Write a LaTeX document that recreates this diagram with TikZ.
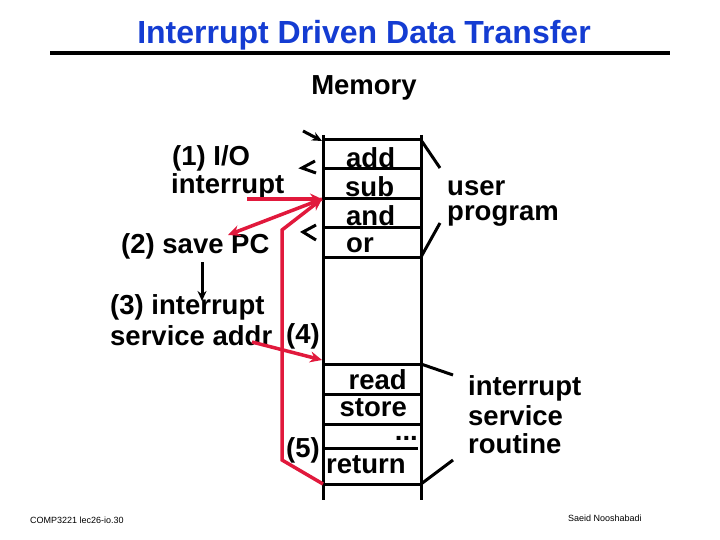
\documentclass[tikz,border=0pt]{standalone}
\usepackage{fontspec}
\setmainfont{Liberation Sans}
\usetikzlibrary{arrows.meta}
\definecolor{tblue}{RGB}{20,60,210}
\definecolor{ired}{RGB}{225,25,60}
\begin{document}
\begin{tikzpicture}[x=1pt,y=-1pt,
  txt/.style={font=\fontsize{27.5}{30}\bfseries\selectfont,inner sep=0pt},
  mem/.style={line width=3pt,black},
  red/.style={line width=3.5pt,ired,-{Stealth[length=12pt,width=11pt]}},
  blk/.style={line width=3pt,black,-{Stealth[length=10pt,width=9pt]}},
  small/.style={font=\fontsize{9}{10}\selectfont,inner sep=0pt}]
\useasboundingbox (0,0) rectangle (720,540);
\node[font=\fontsize{32}{34}\bfseries\selectfont,text=tblue,inner sep=0pt] (title) at (364,35) {Interrupt Driven Data Transfer};
\draw[line width=4pt] (50,53) coordinate (ul) -- (670,53) coordinate (ur);
\node[txt] (memory) at (364,88) {Memory};
% memory column
\draw[mem] (323,135) coordinate (c1) -- (323,500) coordinate (c2);
\draw[mem] (421,135) coordinate (c3) -- (421,500) coordinate (c4);
\foreach \y in {140,169,199,228,257,364,394,424,484} \draw[mem] (323,\y) -- (421,\y);
\draw[mem] (323,448) -- (418,448);
% memory texts
\node[txt,anchor=west] (add) at (346,158) {add};
\node[txt,anchor=west] (sub) at (345,187) {sub};
\node[txt,anchor=west] (and) at (346,216) {and};
\node[txt,anchor=west] (or) at (346,245) {or};
\node[txt,anchor=east] (read) at (407,380) {read};
\node[txt,anchor=east] (store) at (407,408) {store};
\node[txt,anchor=east] (dots) at (418,438) {...};
\node[txt,anchor=west] (ret) at (326,465) {return};
% left labels
\node[txt,anchor=west] (l1a) at (172,158) {(1) I/O};
\node[txt,anchor=west] (l1b) at (171,186) {interrupt};
\node[txt,anchor=west] (l2) at (121,246) {(2) save PC};
\node[txt,anchor=west] (l3a) at (110,307) {(3) interrupt};
\node[txt,anchor=west] (l3b) at (110,336) {service addr};
\node[txt,anchor=west] (l4) at (286,336) {(4)};
\node[txt,anchor=west] (l5) at (286,450) {(5)};
% right labels
\node[txt,anchor=west] (u1) at (447,188) {user};
\node[txt,anchor=west] (u2) at (447,216) {program};
\node[txt,anchor=west] (s1) at (468,388) {interrupt};
\node[txt,anchor=west] (s2) at (468,416) {service};
\node[txt,anchor=west] (s3) at (468,444) {routine};
% braces
\draw[mem] (421,140) -- (440,168);
\draw[mem] (421,257) -- (440,223);
\draw[mem] (421,364) -- (453,375);
\draw[mem] (421,484) -- (453,460);
% small black arrows
\draw[blk] (303,131) -- (322,141);
\draw[line width=3pt] (315,161) -- (302,168) -- (316,173);
\draw[line width=3pt] (316,225) -- (303,232) -- (316,240);
% black arrow 2->3
\coordinate (b1) at (202,262);
\coordinate (b2) at (202,301);
\draw[blk] (b1) -- (b2);
% red arrows
\coordinate (p1) at (247,199);
\coordinate (p2) at (322,199);
\coordinate (p3) at (228,235);
\draw[red] (p1) -- (p2);
\draw[red] (p2) -- (p3);
\draw[red] (323,484) -- (282,460) -- (282,230) -- (p2);
\draw[red] (252,342) -- (322,360);
% footers
\node[small,anchor=west] (f1) at (30,520) {COMP3221 lec26-io.30};
\node[small,anchor=west] (f2) at (568,518) {Saeid Nooshabadi};
\end{tikzpicture}
\end{document}
